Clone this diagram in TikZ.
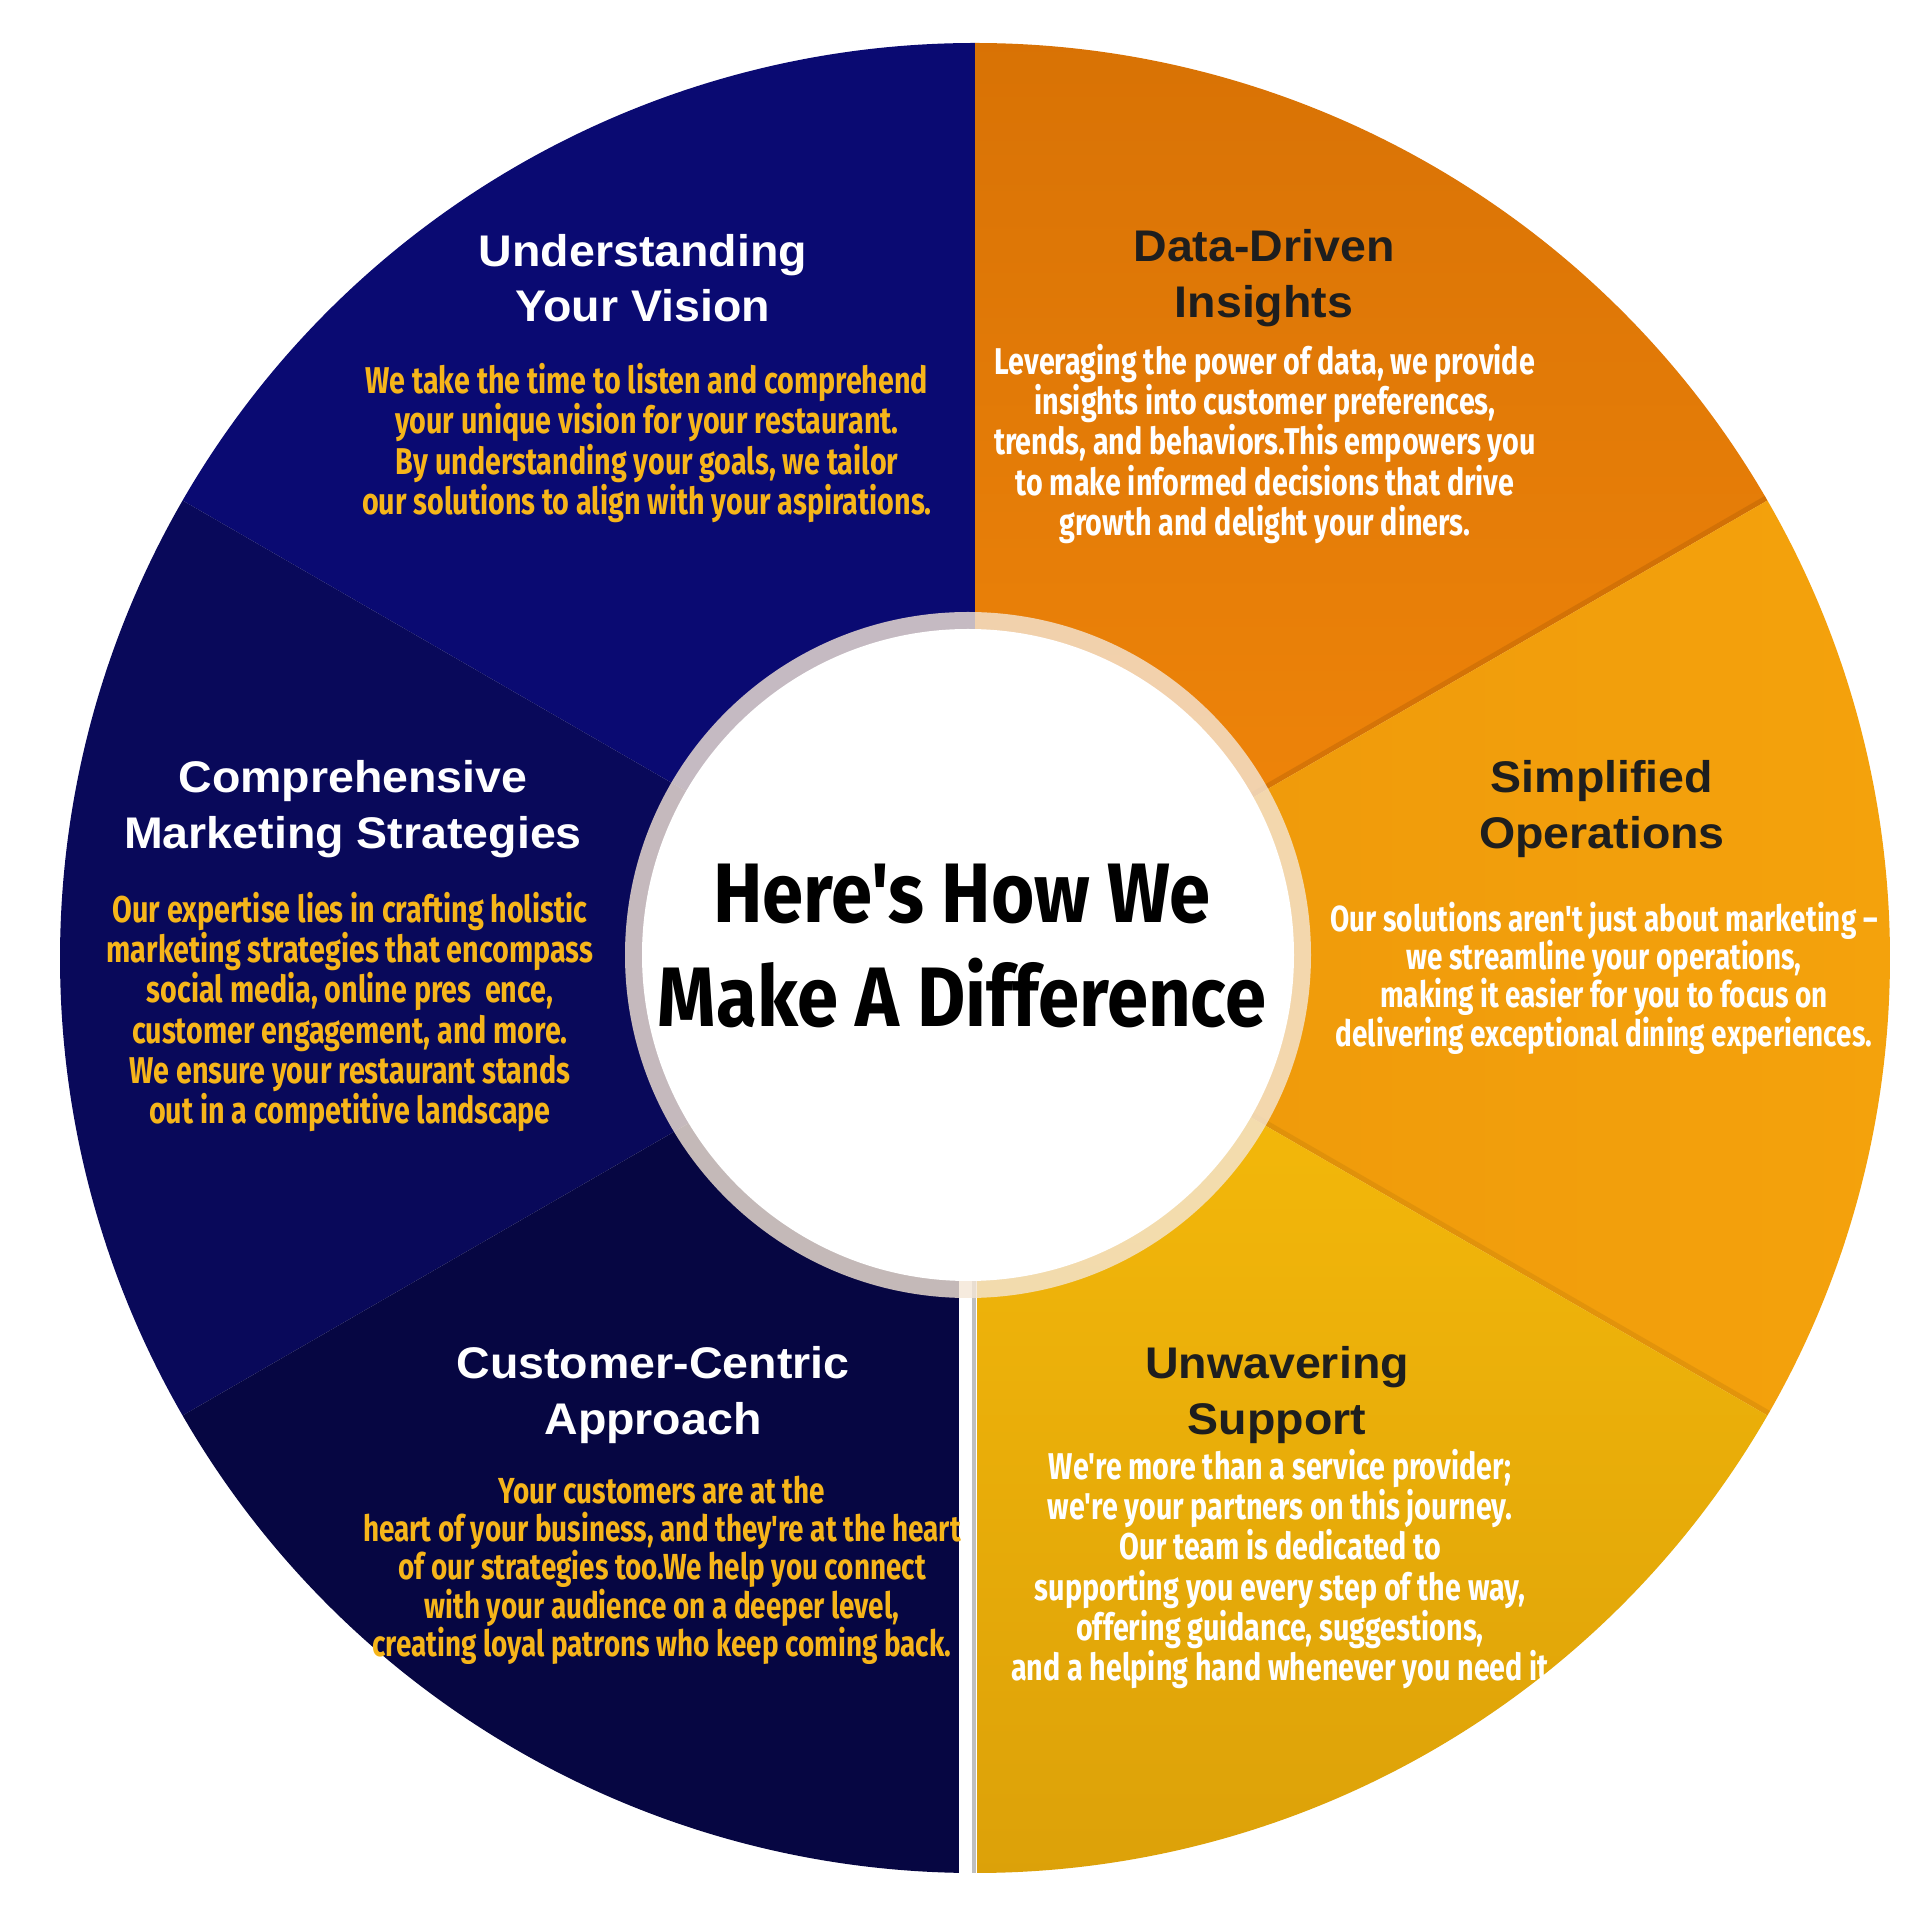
\documentclass[tikz,border=0pt]{standalone}
\usepackage{fontspec}
\setmainfont{Liberation Sans}
\newfontfamily\headfont[FakeStretch=1.05]{Liberation Sans}
\newfontfamily\condfont[FakeStretch=0.77]{Fira Sans}
\newfontfamily\titlefont[FakeStretch=0.88]{Fira Sans}
\usetikzlibrary{positioning}
\definecolor{navyA}{HTML}{0A0A72}
\definecolor{navyB}{HTML}{09095A}
\definecolor{navyC}{HTML}{060642}
\definecolor{orangeA}{HTML}{D87205}
\definecolor{orangeB}{HTML}{F2870A}
\definecolor{amberA}{HTML}{F4A20C}
\definecolor{amberB}{HTML}{EE980B}
\definecolor{goldA}{HTML}{F8BC0A}
\definecolor{goldB}{HTML}{DCA109}
\definecolor{bodyyellow}{HTML}{F6B51A}
\definecolor{headdark}{HTML}{1E1E1E}
\definecolor{ringtone}{HTML}{F4E6D6}
\tikzset{
  whead/.style={align=center, text=white, inner sep=0pt, font=\headfont\fontsize{12.6}{15.8}\selectfont\bfseries},
  dhead/.style={whead, text=headdark},
  ybody/.style={align=center, text=bodyyellow, inner sep=0pt, font=\condfont\bfseries\fontsize{10.6}{11.45}\selectfont},
  wbody/.style={ybody, text=white},
  ybodytight/.style={ybody, font=\condfont\bfseries\fontsize{10.3}{10.9}\selectfont},
  wbodytight/.style={ybodytight, text=white},
  titletext/.style={align=center, text=black, inner sep=0pt, font=\titlefont\bfseries\fontsize{24}{29.6}\selectfont}
}

\begin{document}
\begin{tikzpicture}[x=0.01cm,y=0.01cm]
\useasboundingbox[fill=white] (0,0) rectangle (1920,1920);
\coordinate (c) at (975,962);

% sectors of the wheel
\fill[navyA] (c) -- ++(90:915) arc[start angle=90,end angle=150,radius=915] -- cycle;
\fill[navyB] (c) -- ++(150:915) arc[start angle=150,end angle=210,radius=915] -- cycle;
\fill[navyC] (c) -- ++(210:915) arc[start angle=210,end angle=270,radius=915] -- cycle;
\begin{scope}
  \clip (c) -- ++(30:915) arc[start angle=30,end angle=90,radius=915] -- cycle;
  \shade[top color=orangeA, bottom color=orangeB] (975,962) rectangle (1900,1890);
  \draw[orangeA!80!black, line width=3pt, opacity=0.35] (c) -- ++(30:915);
\end{scope}
\begin{scope}
  \clip (c) -- ++(-30:915) arc[start angle=-30,end angle=30,radius=915] -- cycle;
  \shade[left color=amberB, right color=amberA] (975,450) rectangle (1900,1480);
  \draw[amberB!80!black, line width=3pt, opacity=0.3] (c) -- ++(-30:915);
\end{scope}
\begin{scope}
  \clip (c) -- ++(-90:915) arc[start angle=-90,end angle=-30,radius=915] -- cycle;
  \shade[shading angle=-45, top color=goldA, bottom color=goldB] (960,40) rectangle (1780,970);
\end{scope}

% gap below the centre
\draw[white, line width=5pt] (968,47) -- (968,640);
\draw[black!25, line width=1pt] (974,47) -- (974,640);

% centre disc
\fill[ringtone, opacity=0.8] (968,965) circle[radius=343];
\fill[white] (968,965) circle[radius=326];

\node[titletext] (title) at (962,974) {Here's How We\\Make A Difference};

% upper left
\node[whead] (h1) at (643,1642) {Understanding\\Your Vision};
\node[ybody] (b1) at (647,1477) {We take the time to listen and comprehend\\your unique vision for your restaurant.\\By understanding your goals, we tailor\\our solutions to align with your aspirations.};

% upper right
\node[dhead] (h2) at (1264,1642) {Data-Driven\\Insights};
\node[wbody] (b2) at (1265,1476) {Leveraging the power of data, we provide\\insights into customer preferences,\\trends, and behaviors.This empowers you\\to make informed decisions that drive\\growth and delight your diners.};

% left
\node[whead] (h3) at (353,1111) {Comprehensive\\Marketing Strategies};
\node[ybody] (b3) at (350,908) {Our expertise lies in crafting holistic\\marketing strategies that encompass\\social media, online pres\ \ ence,\\customer engagement, and more.\\We ensure your restaurant stands\\out in a competitive landscape};

% right
\node[dhead] (h4) at (1602,1111) {Simplified\\Operations};
\node[wbodytight] (b4) at (1604,942) {Our solutions aren't just about marketing –\\we streamline your operations,\\making it easier for you to focus on\\delivering exceptional dining experiences.};

% lower left
\node[whead] (h5) at (653,525) {Customer-Centric\\Approach};
\node[ybodytight] (b5) at (662,350) {Your customers are at the\\heart of your business, and they're at the heart\\of our strategies too.We help you connect\\with your audience on a deeper level,\\creating loyal patrons who keep coming back.};

% lower right
\node[dhead] (h6) at (1277,525) {Unwavering\\Support};
\node[wbody] (b6) at (1280,351) {We're more than a service provider;\\we're your partners on this journey.\\Our team is dedicated to\\supporting you every step of the way,\\offering guidance, suggestions,\\and a helping hand whenever you need it};
\end{tikzpicture}
\end{document}
